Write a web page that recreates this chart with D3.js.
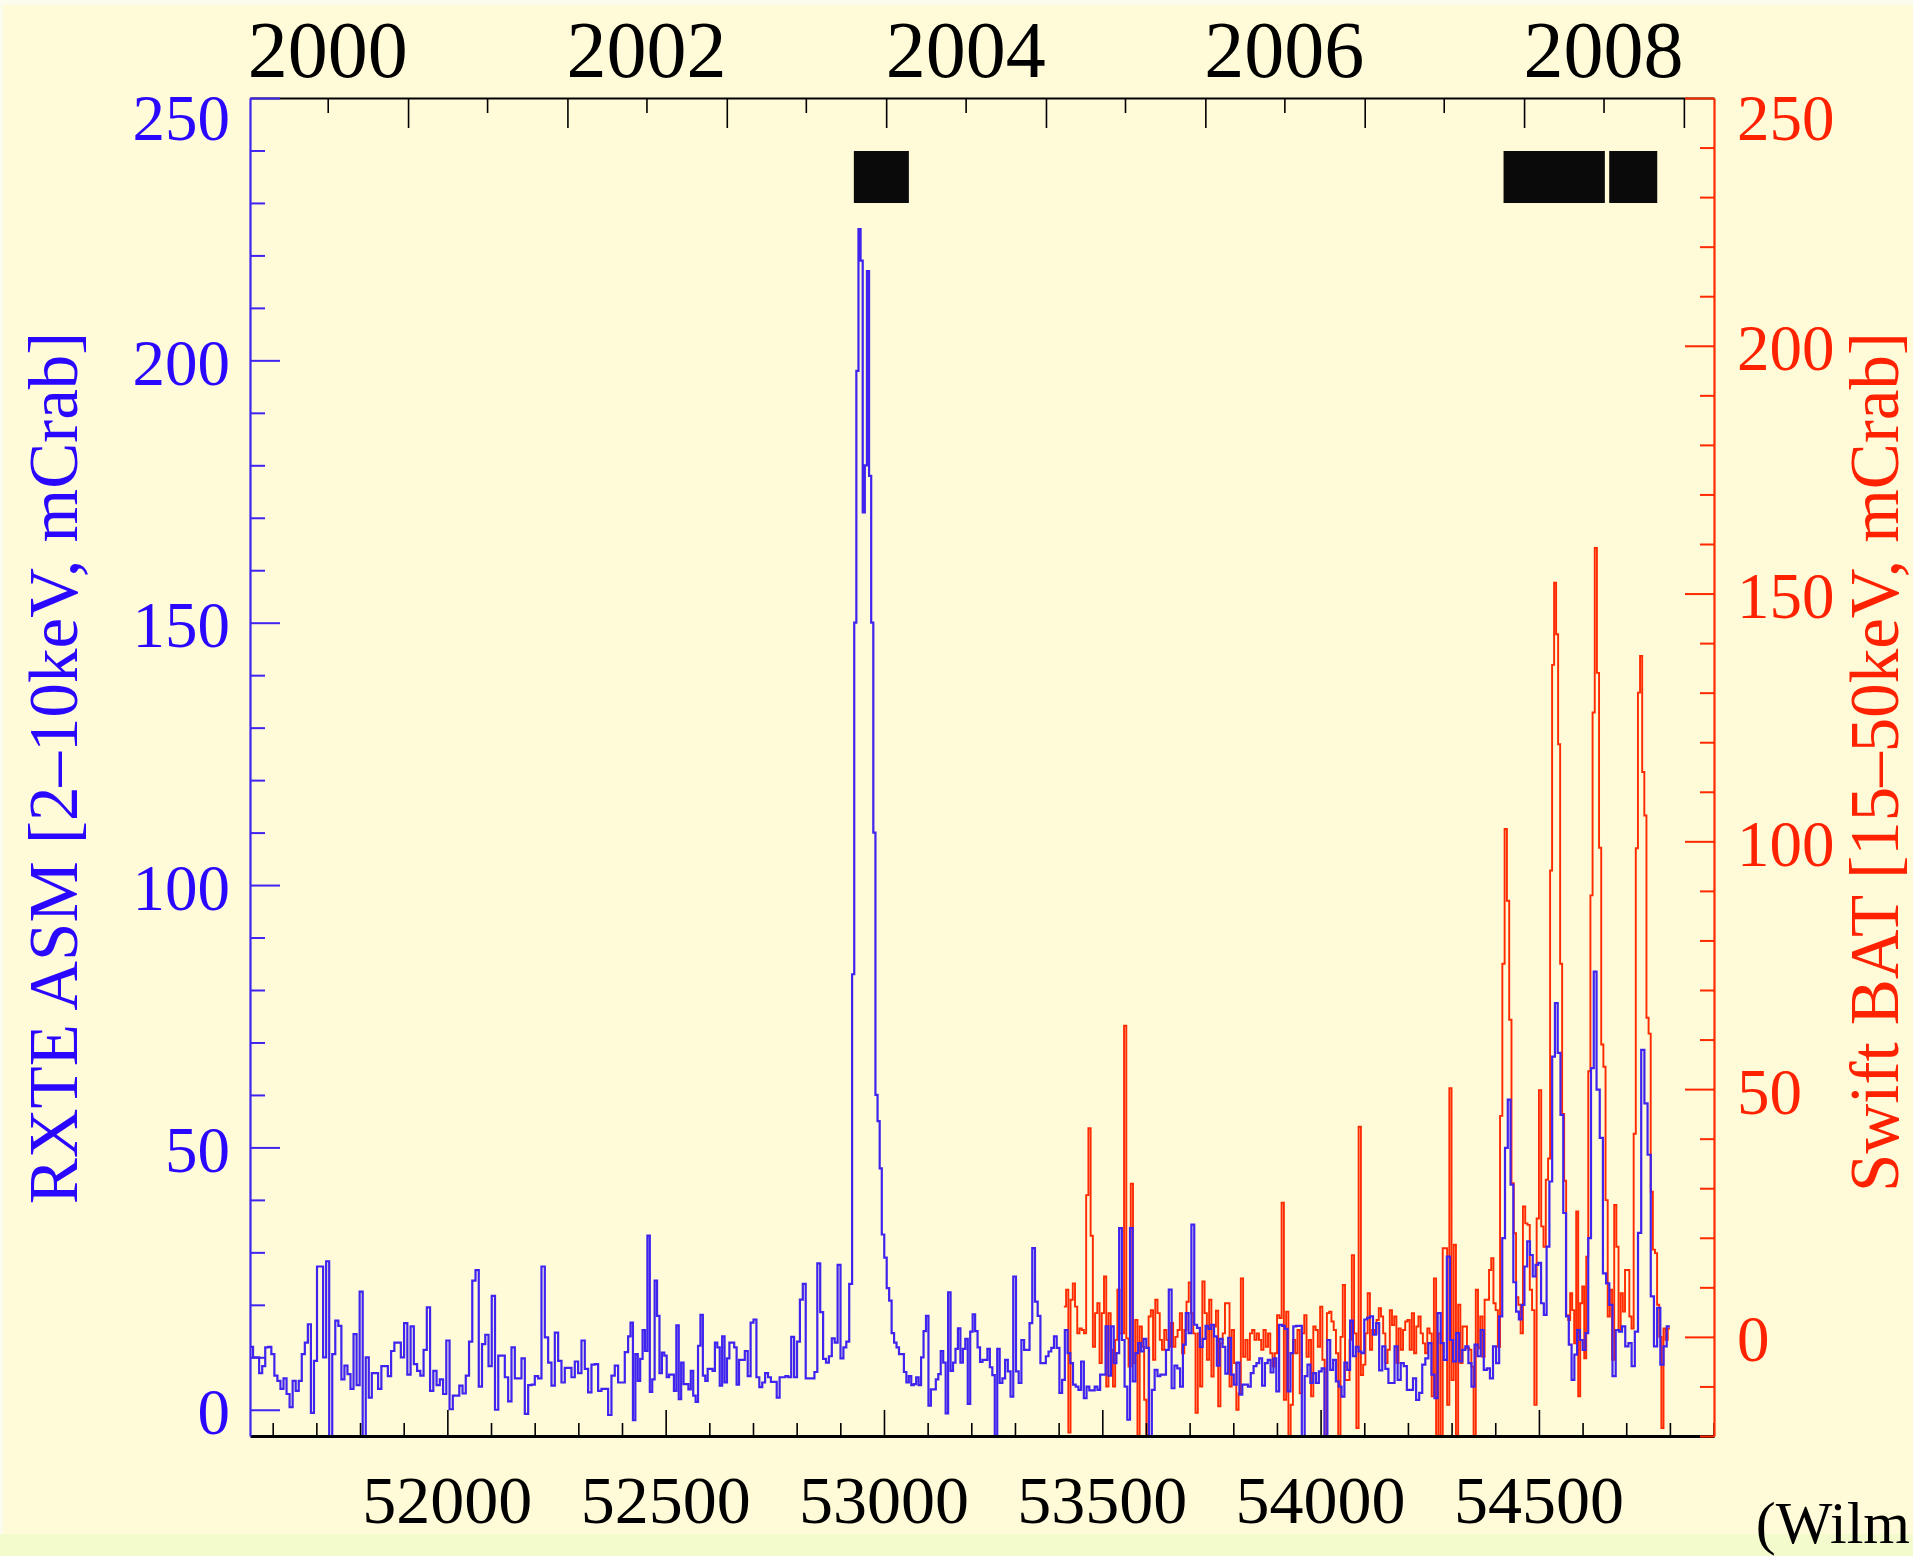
<!DOCTYPE html>
<html>
<head>
<meta charset="utf-8">
<script src="https://cdn.jsdelivr.net/npm/d3@7"></script>
<style>
  html, body { margin: 0; padding: 0; background: #fffad8; }
  svg { display: block; }
</style>
</head>
<body>
<svg id="chart" width="1913" height="1556"></svg>
<script>
// ---- Data -----------------------------------------------------------------

// Time axis range (MJD) and count-rate ranges of the two instruments
const mjdDomain = [51548, 54901];
const asmDomain = [-5, 250];
const batDomain = [-20, 250];

// Bottom (MJD) and top (calendar year) axis labels
const mjdLabels = [52000, 52500, 53000, 53500, 54000, 54500];
const yearLabels = [2000, 2002, 2004, 2006, 2008];
const asmLabels = [0, 50, 100, 150, 200, 250];
const batLabels = [0, 50, 100, 150, 200, 250];

// Intervals with pointed observations (MJD)
const obsIntervals = [[52931, 53057], [54419, 54651], [54661, 54771]];

// RXTE ASM 2-10 keV light curve (mCrab): each block of rates fills one MJD span
const asmSpans = [
  [51548, 51834], [51834, 52124], [52124, 52414], [52414, 52668], [52668, 52927],
  [52927, 52995], [52995, 53265], [53265, 53607], [53607, 53853], [53853, 54113],
  [54113, 54416], [54416, 54632], [54632, 54800]
];
const asmRates = [
  [12,10,10,7,8.3,11.9,12,10.6,6.5,5.5,4,6,3,0.5,5.5,3.6,5.5,10.6,12.8,16.3,-0.6,9.3,27.3,27.3,10,28.3,-5,10.6,17,16,5.8,8.4,6.8,4,14.4,4.7,22.5,-5,10,2.3,7],
  [7,4,8.3,8.3,6.4,11.2,12.8,12.8,10,16.5,6.7,15.9,8.7,7.4,6.5,11.4,19.5,3.6,7.4,4.7,5.8,3,13.2,0.1,2.7,2.7,4.6,3.1,6.5,13,24.6,26.6,4.4,12.5,14.3,8.3,21.7,0,10.3],
  [10.3,6.2,1.6,11.9,6,6,9.8,-0.8,4.7,4.8,6.4,6,27.3,13.8,9,4.6,14.7,9.3,5.2,8,8,6.2,9.2,7,13.2,7.8,3.3,8.6,8.7,3.6,4,4,-1,6.5,8.4,5.2,5.2,11],
  [14,16.6,-2,10.6,5.5,9.7,15.2,11.2,33.2,3.4,5.8,24.6,17.9,7,10.9,10.3,6.2,6.7,6.7,3.6,16.1,2,9,4.9,4.9,3.9,7.4,2.7,1.5,12.2,18.1,6.5,5.5,7.8,7.8,7.4,12.8,11.9,4.6,14,5.2,9.8,12.8,12.8,11.9,4.8],
  [9.5,9.5,11.2,6.4,16.6,17.2,6.2,4.3,5.2,7,6.2,5.3,5.3,2.3,6.2,6.2,6.4,6.2,13.9,6.2,13,21,24,6,6,6,7.2,27.9,18.6,9.7,9,10.2,13.6,12.8,27.6,9.8,11.9,13,24],
  [83,150,198,225,219,171,180,217,178,150,110,60,55,46],
  [33.4,29,23.2,20.8,14.6,12.8,11.9,10.6,10.6,7.2,5.2,6.4,4.7,4.9,6.2,4.7,10,15,17.9,0.8,3.9,3.9,5.8,6.8,11.2,9,-0.7,22.4,7.4,9,11.6,15.5,9,11.6,13.5,1.1,14.9,18.2,15,11.9,9.1,9.5,9.5,11.6,8.1,6.6,-5,11.6],
  [5.1,6,9.5,7.3,2.5,25.4,7.3,5.1,13.3,11.4,11.4,16.5,30.8,20.6,17.9,8.9,8.9,10.2,11.1,11.8,14,11.8,3.2,5.7,15.2,10.8,8.9,4.8,4.4,3.8,9.2,2.2,4.4,3.7,3.7,4.4,3.8,6.7,6.7,15.9,6.5,15.9,8.9,10.8,34.6,13.3,4.4,-1.9,34.6,5.4,10.8,12.7,11.1,13.5,11.8],
  [-5,3.8,7.6,6.4,6.7,6.7,11.4,22.9,4.1,8.4,7.9,4.4,12.4,18.4,14.6,35.3,16.2,15.6,12,13.5,16,15.4,16.2,14,8.4,13.5,12,6.9,13.7,6.7,4.8,9,2.9,4.8,4.8,4.4,7,8.3],
  [8.9,9.8,4.6,8.9,9.5,7.1,9.8,3.5,16.2,16,15.4,3.5,10.8,15.9,16,16,-5,6.4,8.6,5.1,7,5.1,7.3,7.9,-5,13.3,7.6,9.5,5.4,4.4,2.5,9,7.6,17,10.2,12,11.1,10.8,17.2,17.5],
  [17.8,14.3,16.5,7.5,12.1,7.8,5.1,5.1,12.1,5.7,8.9,8.3,3.8,3.8,6,1.9,3.2,8.6,9.8,12.7,6.7,2.2,18.4,12.7,9.5,29.2,13.3,9.2,14.6,9.2,11.4,12.1,8.9,4.4,12.4,10.2,15.2,7.6,7.9,6,12.1,8.9,17.8],
  [32.7,49.9,59.1,42.9,24.3,18.7,17.2,20,27.3,32.1,29.5,25.4,27.6,28,20.3,18.1,31.1,43.5,67.3,77.5,68,56.2,37.5,17.8,12.4,5.7,10.5,15.2,13.3,11.4,14.6,32.7,65.1,83.5],
  [61,51.8,26,24.1,20,6.4,15.2,14.9,15.9,12.1,12.7,8.3,14.9,33.7,68.6,58.4,48.6,21.6,12.1,19.4,8.6,12.1,15.9]
];

// Swift BAT 15-50 keV light curve (mCrab)
const batSpans = [
  [53412, 53698], [53698, 54113], [54113, 54411], [54411, 54521],
  [54521, 54613], [54613, 54717], [54717, 54800]
];
const batRates = [
  [6.1,9.5,-19.3,7.5,10.8,6.1,0.7,1.7,1.4,0.7,28.6,42.1,20.4,-2,4.8,6.8,-5.3,4.8,12.2,-10,4.8,-2.6,-10,-0.6,9.5,0.7,0.7,62.8,-0.3,-6,30.9,-5.3,3.4,-20,2.1,-2,-12.7,-20,4.1,5.4,-4.6,7.5,4.8,-0.6,-2.6,1.4,-0.6,-2,2.8,-2,0,1.4,4.8,-3.3,1.4,7.1],
  [11,4.8,0.7,-15.3,0.7,-10,11.2,4.8,-4.6,7.5,-8,2.1,5.3,-14,-1.3,0.7,6.8,6.8,-10,1.4,-5.3,-14.7,-11.4,11.8,-4,-0.6,-4.6,0.7,1.4,-0.6,0.7,-0.6,-2.6,1.4,-2,0.7,-3.3,-6,-3.3,4.4,3.8,27.1,-12.7,5.1,-20,-13.7,-0.6,-3.3,1.4,-11.4,0.7,4.4,-4,-0.6,-12,2.1,1.4,-2,6.1,-4.6,-20,4.8,5.1,3.1,1.4,-3.3,-20,0,10.5,-8.7,-8.7,-0.6,16.5,0.7,-18.4,42.4,-7.7,-5.6,0.7,8.8],
  [-2.6,1.4,0.7,3.4,5.8,4.1,0.7,-5.3,-2.6,5.4,2.4,4.1,-5.3,1.7,-2.6,1.4,3.1,3.4,-2.6,4.8,-3.3,2.1,4.1,0.7,-1.3,-3.3,1.7,0.7,-12,11.8,-20,0.7,-20,17.9,17.9,-13.7,50.2,-8.7,18.6,-20,6.5,-5.3,2.1,2.1,-2.3,-2.6,-6,-20,9.5,-2.3,4.1,-4,7.5,7.5,13.5,15.9,6.8,5.4,-2],
  [44.6,75.3,102.5,88,64,31,20.9,8,6.5,0.7,26.3,22.9,22.6,9.5,5.4,-13.7,23.9,49.8,22.3,18.2,31.7],
  [36,94.1,135.6,152.2,141.8,119.6,75.3,45,31.5,4.4,3.4,8.8,5.4,-1.3,25.3,-12,6.8,10.2,-4.3,16.2],
  [53.6,89.1,126,159.2,134,98.7,59,54.5,27.6,4.1,9.5,-4.6,26.6,18.2,1.4,8.8,5.1,13.5,13.5,4.1,1.7],
  [41,98.6,130,137.4,114,105.2,64.4,61.2,29.3,17.6,16.9,6.5,0,-18.4,1.7,-0.6,1.7]
];

// ---- Layout & style -------------------------------------------------------

const plot = { left: 250, right: 1714, top: 98, bottom: 1436 };
const obsBand = { top: 151, height: 52 };
const serif = '"Liberation Serif", "Times New Roman", Times, serif';
const asmColor = '#3f24f0', asmText = '#2a08ff';
const batColor = '#ff2a00', batText = '#ff2200';

const svg = d3.select('#chart');

// Backdrop
svg.append('rect').attr('width', 1913).attr('height', 1556).attr('fill', '#fffad8');
svg.append('rect').attr('width', 1913).attr('height', 5).attr('fill', '#fbfbee');
svg.append('rect').attr('width', 3).attr('height', 1556).attr('fill', '#fbfbee');
svg.append('rect').attr('y', 1534).attr('width', 1913).attr('height', 22).attr('fill', '#f3facc');

// ---- Scales ---------------------------------------------------------------

const mjdToDate = m => new Date(Date.UTC(1858, 10, 17) + m * 864e5);

const x = d3.scaleLinear().domain(mjdDomain).range([plot.left, plot.right]);
const xYear = d3.scaleUtc().domain(mjdDomain.map(mjdToDate)).range([plot.left, plot.right]);
const yAsm = d3.scaleLinear().domain(asmDomain).range([plot.bottom, plot.top]);
const yBat = d3.scaleLinear().domain(batDomain).range([plot.bottom, plot.top]);

// Expand blocks of rates into histogram steps (bin start, rate)
function binnedSeries(spans, rates) {
  const pts = [];
  spans.forEach(([t0, t1], k) => {
    const vals = rates[k];
    const w = (t1 - t0) / vals.length;
    vals.forEach((v, i) => pts.push([t0 + i * w, v]));
  });
  const lastSpan = spans[spans.length - 1];
  const lastVals = rates[rates.length - 1];
  pts.push([lastSpan[1], lastVals[lastVals.length - 1]]);
  return pts;
}

const asmSeries = binnedSeries(asmSpans, asmRates);
const batSeries = binnedSeries(batSpans, batRates);

// ---- Plot area ------------------------------------------------------------

svg.append('defs').append('clipPath').attr('id', 'plot-clip')
  .append('rect')
  .attr('x', plot.left).attr('y', plot.top)
  .attr('width', plot.right - plot.left).attr('height', plot.bottom - plot.top);

const area = svg.append('g').attr('clip-path', 'url(#plot-clip)');

// Observation intervals
area.selectAll('rect.obs').data(obsIntervals).join('rect')
  .attr('class', 'obs')
  .attr('x', d => x(d[0]))
  .attr('width', d => x(d[1]) - x(d[0]))
  .attr('y', obsBand.top).attr('height', obsBand.height)
  .attr('fill', '#0a0a0a');

// Swift BAT curve
area.append('path')
  .attr('d', d3.line().x(d => x(d[0])).y(d => yBat(d[1])).curve(d3.curveStepAfter)(batSeries))
  .attr('fill', 'none').attr('stroke', batColor).attr('stroke-width', 1.9)
  .attr('stroke-linejoin', 'miter');

// RXTE ASM curve
area.append('path')
  .attr('d', d3.line().x(d => x(d[0])).y(d => yAsm(d[1])).curve(d3.curveStepAfter)(asmSeries))
  .attr('fill', 'none').attr('stroke', asmColor).attr('stroke-width', 2.2)
  .attr('stroke-linejoin', 'miter');

// ---- Axes -----------------------------------------------------------------

// Top: calendar years (long ticks at 1 Jan, short at 1 Jul)
const yearTicks = d3.utcMonth.every(6).range(mjdToDate(mjdDomain[0]), mjdToDate(mjdDomain[1]));
const topAxis = svg.append('g').attr('transform', `translate(0,${plot.top})`)
  .call(d3.axisBottom(xYear).tickValues(yearTicks).tickFormat('').tickSizeOuter(0));
topAxis.select('.domain').attr('stroke', '#000').attr('stroke-width', 2.2);
topAxis.selectAll('.tick line')
  .attr('y2', d => d.getUTCMonth() === 0 ? 30 : 15)
  .attr('stroke', '#000').attr('stroke-width', 1.6);

svg.append('g').selectAll('text').data(yearLabels).join('text')
  .attr('x', d => xYear(new Date(Date.UTC(d, 6, 1))))
  .attr('y', 77)
  .attr('text-anchor', 'middle')
  .attr('font-family', serif).attr('font-size', 80).attr('fill', '#000')
  .text(d => d);

// Bottom: MJD
const mjdTicks = d3.range(51600, mjdDomain[1] + 1, 100);
const bottomAxis = svg.append('g').attr('transform', `translate(0,${plot.bottom})`)
  .call(d3.axisTop(x).tickValues(mjdTicks).tickFormat('').tickSizeOuter(0));
bottomAxis.select('.domain').attr('stroke', '#000').attr('stroke-width', 2.8);
bottomAxis.selectAll('.tick line')
  .attr('y2', d => d % 500 === 0 ? -26 : -13)
  .attr('stroke', '#000').attr('stroke-width', 1.6);

svg.append('g').selectAll('text').data(mjdLabels).join('text')
  .attr('x', d => x(d))
  .attr('y', 1523)
  .attr('text-anchor', 'middle')
  .attr('font-family', serif).attr('font-size', 68).attr('fill', '#000')
  .text(d => d);

// Left: RXTE ASM rate
const leftAxis = svg.append('g').attr('transform', `translate(${plot.left},0)`)
  .call(d3.axisRight(yAsm).tickValues(d3.range(0, 251, 10)).tickFormat('').tickSizeOuter(0));
leftAxis.select('.domain').attr('stroke', asmColor).attr('stroke-width', 2.2);
leftAxis.selectAll('.tick line')
  .attr('x2', d => d % 50 === 0 ? 30 : 15)
  .attr('stroke', asmColor).attr('stroke-width', 2);

const leftLabels = svg.append('g').attr('transform', `translate(${plot.left},0)`)
  .call(d3.axisLeft(yAsm).tickValues(asmLabels).tickSize(0).tickPadding(20));
leftLabels.select('.domain').remove();
leftLabels.selectAll('text')
  .attr('dy', d => d === 250 ? 41 : 24)
  .attr('font-family', serif).attr('font-size', 65).attr('fill', asmText);

// Right: Swift BAT rate
const rightAxis = svg.append('g').attr('transform', `translate(${plot.right},0)`)
  .call(d3.axisLeft(yBat).tickValues(d3.range(-20, 251, 10)).tickFormat('').tickSizeOuter(0));
rightAxis.select('.domain').attr('stroke', batColor).attr('stroke-width', 2.2);
rightAxis.selectAll('.tick line')
  .attr('x2', d => d % 50 === 0 ? -29 : -14)
  .attr('stroke', batColor).attr('stroke-width', 2);

const rightLabels = svg.append('g').attr('transform', `translate(${plot.right},0)`)
  .call(d3.axisRight(yBat).tickValues(batLabels).tickSize(0).tickPadding(23));
rightLabels.select('.domain').remove();
rightLabels.selectAll('text')
  .attr('dy', d => d === 250 ? 41 : 24)
  .attr('font-family', serif).attr('font-size', 65).attr('fill', batText);

// Axis titles
svg.append('text')
  .attr('transform', 'translate(77,768) rotate(-90)')
  .attr('text-anchor', 'middle')
  .attr('font-family', serif).attr('font-size', 69).attr('fill', asmText)
  .text('RXTE ASM [2–10keV, mCrab]');

svg.append('text')
  .attr('transform', 'translate(1898,762) rotate(-90)')
  .attr('text-anchor', 'middle')
  .attr('font-family', serif).attr('font-size', 69).attr('fill', batText)
  .text('Swift BAT [15–50keV, mCrab]');

// Credit line, right-aligned at the page edge
svg.append('text')
  .attr('x', 1910).attr('y', 1543)
  .attr('text-anchor', 'end')
  .attr('font-family', serif).attr('font-size', 60).attr('fill', '#000')
  .text('(Wilm');
</script>
</body>
</html>
